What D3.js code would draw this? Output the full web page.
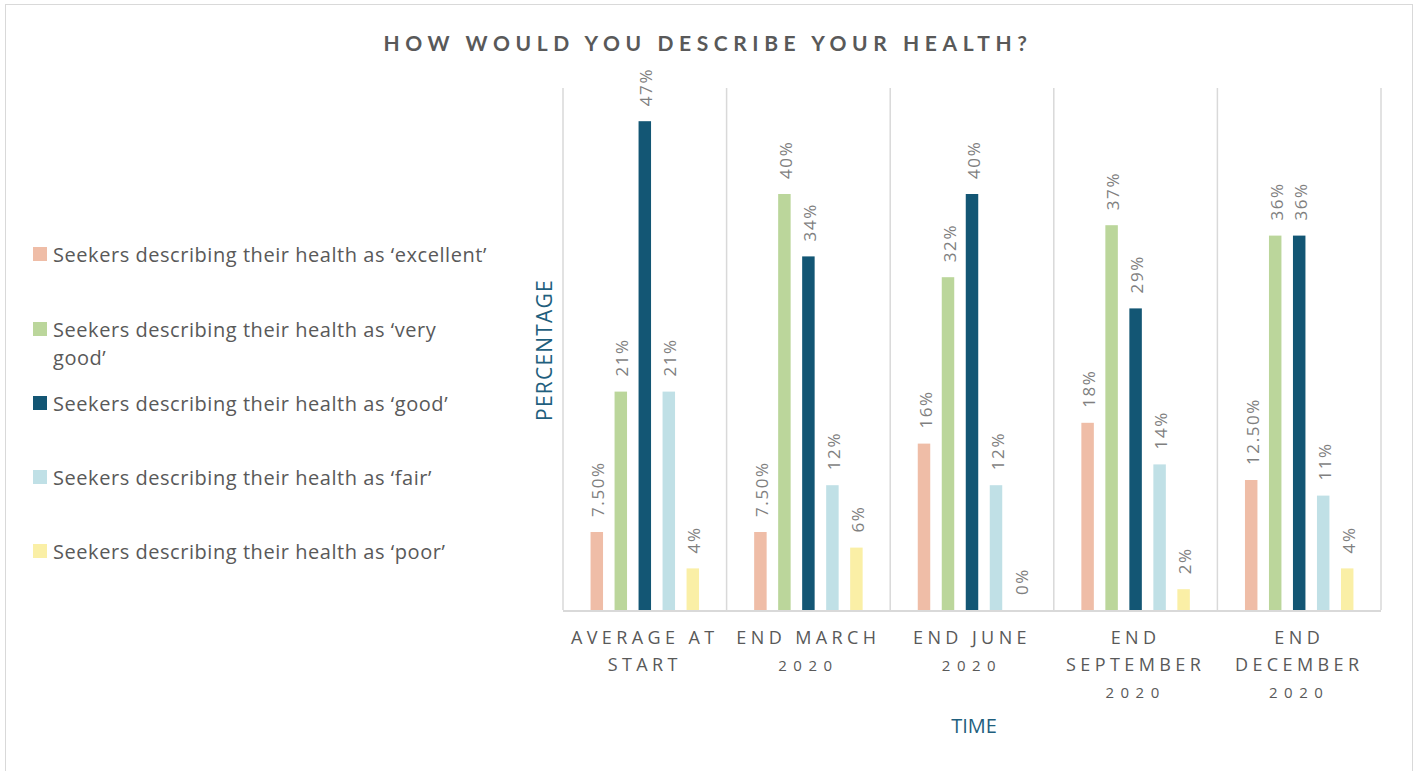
<!DOCTYPE html>
<html>
<head>
<meta charset="utf-8">
<script src="https://cdn.jsdelivr.net/npm/d3@7"></script>
<style>
  html, body { margin: 0; padding: 0; background: #fff; }
  svg { display: block; }
</style>
</head>
<body>
<svg id="chart" width="1418" height="771"></svg>
<script>
// Survey periods (x-axis), split into display lines
const categories = ["Average at start", "End March 2020", "End June 2020", "End September 2020", "End December 2020"];
const categoryLines = [
  ["AVERAGE AT", "START"],
  ["END MARCH", "2020"],
  ["END JUNE", "2020"],
  ["END", "SEPTEMBER", "2020"],
  ["END", "DECEMBER", "2020"]
];

// Health rating series
const seriesNames = [
  "Seekers describing their health as \u2018excellent\u2019",
  "Seekers describing their health as \u2018very good\u2019",
  "Seekers describing their health as \u2018good\u2019",
  "Seekers describing their health as \u2018fair\u2019",
  "Seekers describing their health as \u2018poor\u2019"
];
const seriesColors = ["#EFBDA7", "#BBD69B", "#135674", "#C0E0E6", "#FAEFA6"];

// Percentages per series, one value per period
const excellent = [7.5, 7.5, 16, 18, 12.5];
const veryGood  = [21, 40, 32, 37, 36];
const good      = [47, 34, 40, 29, 36];
const fair      = [21, 12, 12, 14, 11];
const poor      = [4, 6, 0, 2, 4];
const seriesValues = [excellent, veryGood, good, fair, poor];

const svg = d3.select("#chart");
const textColor = "#595959";
const axisTitleColor = "#1F5F7E";
const gridColor = "#D9D9D9";

// Outer frame
svg.append("rect")
  .attr("x", 5.5).attr("y", 4.5).attr("width", 1407).attr("height", 780)
  .attr("fill", "none").attr("stroke", gridColor).attr("stroke-width", 1);

// Title
svg.append("text")
  .attr("x", 708).attr("y", 51)
  .attr("text-anchor", "middle")
  .attr("font-family", "Lato, 'Open Sans', sans-serif")
  .attr("font-weight", 700)
  .attr("font-size", 21)
  .attr("letter-spacing", "5.6px")
  .attr("fill", textColor)
  .text("HOW WOULD YOU DESCRIBE YOUR HEALTH?");

// Scales
const plotLeft = 563, plotRight = 1381, plotTop = 90, plotBottom = 610;
const x = d3.scaleBand().domain(categories).range([plotLeft, plotRight]).padding(0);
const innerPadIn = 0.48;
const step = 24;
const innerPadOut = (x.bandwidth() / step - (seriesNames.length - innerPadIn)) / 2;
const xInner = d3.scaleBand().domain(d3.range(seriesNames.length))
  .range([0, x.bandwidth()]).paddingInner(innerPadIn).paddingOuter(innerPadOut);
const y = d3.scaleLinear().domain([0, 50]).range([plotBottom, plotTop]);

// Vertical separators between periods
const bounds = categories.map(c => x(c)).concat([plotRight]);
svg.append("g").selectAll("line").data(bounds).join("line")
  .attr("x1", d => d).attr("x2", d => d)
  .attr("y1", y(50) - 2).attr("y2", plotBottom)
  .attr("stroke", gridColor).attr("stroke-width", 1.5);

// Bars and value labels
const fmt = v => (v % 1 !== 0 ? v.toFixed(2) : String(v)) + "%";
const groups = svg.append("g").selectAll("g").data(categories).join("g")
  .attr("transform", c => `translate(${x(c)},0)`);

groups.each(function(c, ci) {
  const g = d3.select(this);
  seriesValues.forEach((vals, si) => {
    const v = vals[ci];
    const bx = xInner(si);
    g.append("rect")
      .attr("x", bx).attr("width", xInner.bandwidth())
      .attr("y", y(v)).attr("height", y(0) - y(v))
      .attr("fill", seriesColors[si]);
    const cx = bx + xInner.bandwidth() / 2 + 1;
    const ty = y(v) - 15;
    g.append("text")
      .attr("transform", `translate(${cx},${ty}) rotate(-90)`)
      .attr("text-anchor", "start")
      .attr("dominant-baseline", "central")
      .attr("font-family", "'Open Sans', sans-serif")
      .attr("font-size", 17)
      .attr("letter-spacing", "1.6px")
      .attr("fill", "#7F7F7F")
      .text(fmt(v));
  });
});

// Baseline
svg.append("line")
  .attr("x1", plotLeft).attr("x2", plotRight)
  .attr("y1", plotBottom + 1).attr("y2", plotBottom + 1)
  .attr("stroke", gridColor).attr("stroke-width", 2);

// Category labels
const xLab = svg.append("g");
categoryLines.forEach((lines, ci) => {
  const cx = x(categories[ci]) + x.bandwidth() / 2;
  lines.forEach((ln, li) => {
    const isYear = /^\d+$/.test(ln);
    xLab.append("text")
      .attr("x", cx).attr("y", 644 + li * 27)
      .attr("text-anchor", "middle")
      .attr("font-family", "'Open Sans', sans-serif")
      .attr("font-size", isYear ? 15 : 18)
      .attr("letter-spacing", isYear ? "6.5px" : "4.4px")
      .attr("fill", textColor)
      .text(ln);
  });
});

// Axis titles
svg.append("text")
  .attr("x", 974).attr("y", 733)
  .attr("text-anchor", "middle")
  .attr("font-family", "'Open Sans', sans-serif")
  .attr("font-size", 20)
  .attr("fill", axisTitleColor)
  .text("TIME");

svg.append("text")
  .attr("transform", `translate(552,350) rotate(-90)`)
  .attr("text-anchor", "middle")
  .attr("font-family", "'Open Sans', sans-serif")
  .attr("font-size", 21)
  .attr("letter-spacing", "1.2px")
  .attr("fill", axisTitleColor)
  .text("PERCENTAGE");

// Legend
const legendRows = [
  { lines: [seriesNames[0]], y: 254 },
  { lines: ["Seekers describing their health as \u2018very", "good\u2019"], y: 329 },
  { lines: [seriesNames[2]], y: 403 },
  { lines: [seriesNames[3]], y: 477 },
  { lines: [seriesNames[4]], y: 551 }
];
const legend = svg.append("g");
legendRows.forEach((row, i) => {
  legend.append("rect")
    .attr("x", 33).attr("y", row.y - 7).attr("width", 14).attr("height", 14)
    .attr("fill", seriesColors[i]);
  row.lines.forEach((ln, li) => {
    legend.append("text")
      .attr("x", 53).attr("y", row.y + li * 28)
      .attr("dominant-baseline", "central")
      .attr("font-family", "'Open Sans', sans-serif")
      .attr("font-size", 20)
      .attr("letter-spacing", "0.55px")
      .attr("fill", textColor)
      .text(ln);
  });
});
</script>
</body>
</html>
